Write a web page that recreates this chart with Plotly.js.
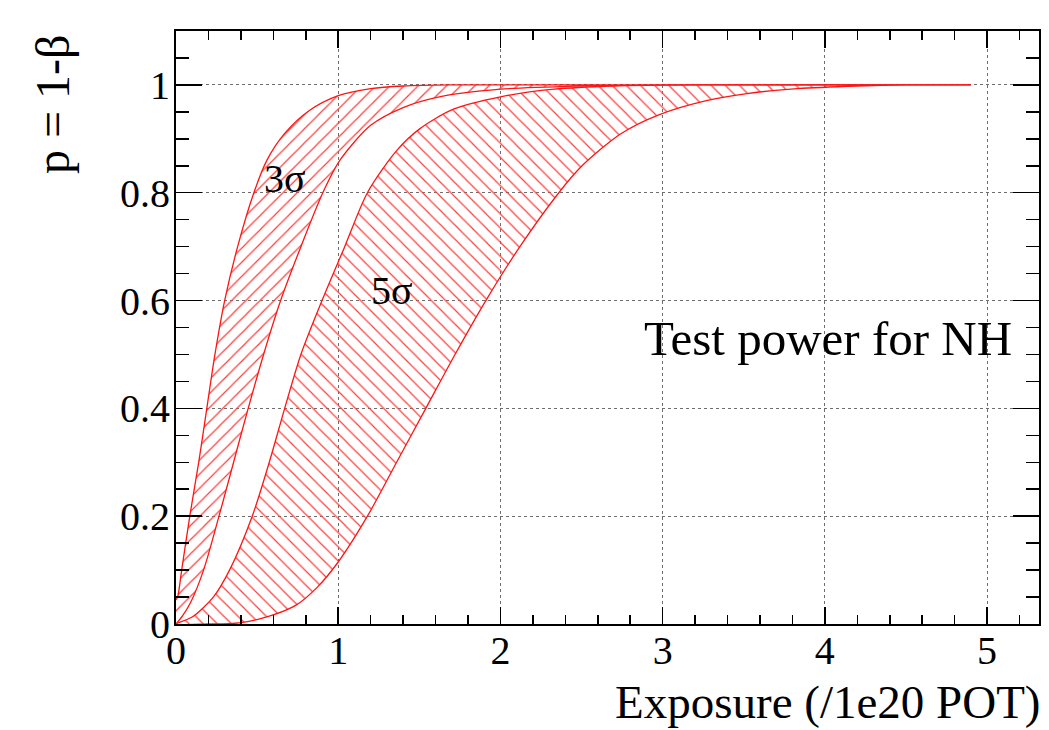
<!DOCTYPE html>
<html>
<head>
<meta charset="utf-8">
<script src="https://cdn.plot.ly/plotly-3.0.1.min.js"></script>
<style>html,body{margin:0;padding:0;background:#fff;}#chart{width:1049px;height:730px;}</style>
</head>
<body>
<div id="chart"></div>
<script>
// 3 sigma band: upper (left) boundary
const sig3HighX = [0, 0.01, 0.035, 0.085, 0.14, 0.19, 0.24, 0.30, 0.38, 0.48, 0.56, 0.67, 0.82, 1.0, 1.2, 1.4, 1.7, 2.2, 3.0, 4.0, 4.9];
const sig3HighY = [0.045, 0.05, 0.10, 0.20, 0.30, 0.40, 0.50, 0.60, 0.70, 0.80, 0.86, 0.91, 0.952, 0.98, 0.993, 0.998, 1, 1, 1, 1, 1];
// 3 sigma band: lower (right) boundary
const sig3LowX = [0, 0.04, 0.09, 0.17, 0.265, 0.355, 0.445, 0.54, 0.645, 0.77, 0.905, 1.01, 1.2, 1.4, 1.61, 2.0, 2.5, 3.0, 4.0, 4.9];
const sig3LowY = [0, 0.015, 0.04, 0.10, 0.20, 0.30, 0.40, 0.50, 0.60, 0.70, 0.80, 0.86, 0.925, 0.958, 0.977, 0.992, 0.998, 1, 1, 1];
// 5 sigma band: upper (left) boundary
const sig5HighX = [0, 0.10, 0.23, 0.33, 0.47, 0.575, 0.67, 0.77, 0.90, 1.04, 1.18, 1.36, 1.5, 1.71, 2.0, 2.33, 2.7, 3.2, 4.0, 4.9];
const sig5HighY = [0, 0.013, 0.05, 0.10, 0.20, 0.30, 0.40, 0.50, 0.60, 0.70, 0.80, 0.878, 0.918, 0.955, 0.978, 0.992, 0.998, 1, 1, 1];
// 5 sigma band: lower (right) boundary
const sig5LowX = [0, 0.2, 0.39, 0.58, 0.74, 0.87, 1.0, 1.18, 1.36, 1.54, 1.72, 1.91, 2.12, 2.36, 2.5, 2.74, 2.98, 3.27, 3.52, 3.83, 4.2, 4.5, 4.9];
const sig5LowY = [0, 0, 0.002, 0.015, 0.035, 0.068, 0.115, 0.20, 0.30, 0.40, 0.50, 0.60, 0.70, 0.80, 0.849, 0.909, 0.945, 0.971, 0.984, 0.993, 0.998, 1, 1];

const bandLabels = ['3σ', '5σ'];
const xTitle = 'Exposure (/1e20 POT)';
const yTitle = 'p = 1-β';
const plotLabel = 'Test power for NH';

function band(hx, hy, lx, ly, shape, name) {
  // closed outline: upper boundary forward, lower boundary backward (shared end point not repeated)
  const rx = lx.slice(0, -1).reverse();
  const ry = ly.slice(0, -1).reverse();
  return {
    type: 'scatter', mode: 'lines', name: name,
    x: hx.concat(rx),
    y: hy.concat(ry),
    fill: 'toself',
    fillcolor: 'rgba(0,0,0,0)',
    fillpattern: {shape: shape, fgcolor: 'rgb(255,60,60)', bgcolor: 'rgba(255,255,255,0)', size: 10, solidity: 0.12, fillmode: 'replace'},
    line: {color: 'rgb(255,20,20)', width: 1.3, shape: 'spline', smoothing: 0.8},
    hoverinfo: 'skip', showlegend: false
  };
}

const data = [
  band(sig3HighX, sig3HighY, sig3LowX, sig3LowY, '/', bandLabels[0]),
  band(sig5HighX, sig5HighY, sig5LowX, sig5LowY, '\\', bandLabels[1])
];

const font = 'Liberation Serif, Times New Roman, serif';
const L = 176, R = 1039, T = 31, B = 624;
const W = R - L, H = B - T;

const axisCommon = {
  showline: true, linecolor: 'black', linewidth: 2, mirror: 'allticks',
  ticks: 'inside', tickcolor: 'black', tickwidth: 1.5,
  showgrid: true, gridcolor: 'rgb(110,110,110)', griddash: 'dot', gridwidth: 1,
  zeroline: false,
  tickfont: {family: font, size: 40, color: 'black'}
};

const layout = {
  width: 1049, height: 730,
  margin: {l: L, r: 1049 - R, t: T, b: 730 - B},
  paper_bgcolor: 'white', plot_bgcolor: 'white',
  showlegend: false,
  xaxis: Object.assign({}, axisCommon, {
    range: [0, 5.32], dtick: 1, tick0: 0, ticklen: 17, ticklabelstandoff: -10,
    minor: {dtick: 0.2, tick0: 0, ticks: 'inside', ticklen: 9, tickcolor: 'black', tickwidth: 1.5, showgrid: false}
  }),
  yaxis: Object.assign({}, axisCommon, {
    range: [0, 1.1], dtick: 0.2, tick0: 0, ticklen: 26, ticklabelstandoff: -4,
    minor: {dtick: 0.05, tick0: 0, ticks: 'inside', ticklen: 13, tickcolor: 'black', tickwidth: 1.5, showgrid: false}
  }),
  annotations: [
    {text: bandLabels[0], xref: 'x', yref: 'y', x: 0.67, y: 0.826, showarrow: false,
     xanchor: 'center', yanchor: 'middle', font: {family: font, size: 40, color: 'black'}},
    {text: bandLabels[1], xref: 'x', yref: 'y', x: 1.33, y: 0.618, showarrow: false,
     xanchor: 'center', yanchor: 'middle', font: {family: font, size: 40, color: 'black'}},
    {text: plotLabel, xref: 'x', yref: 'y', x: 4.02, y: 0.53, showarrow: false,
     xanchor: 'center', yanchor: 'middle', font: {family: font, size: 49, color: 'black'}},
    {text: xTitle, xref: 'paper', yref: 'paper', x: (1043 - L) / W, y: (B - 702) / H, showarrow: false,
     xanchor: 'right', yanchor: 'middle', font: {family: font, size: 47, color: 'black'}},
    {text: yTitle, xref: 'paper', yref: 'paper', x: (52 - L) / W, y: (B - 105) / H, showarrow: false,
     textangle: -90, xanchor: 'center', yanchor: 'middle', font: {family: font, size: 48, color: 'black'}}
  ]
};

Plotly.newPlot('chart', data, layout, {staticPlot: true, displayModeBar: false});
</script>
</body>
</html>
